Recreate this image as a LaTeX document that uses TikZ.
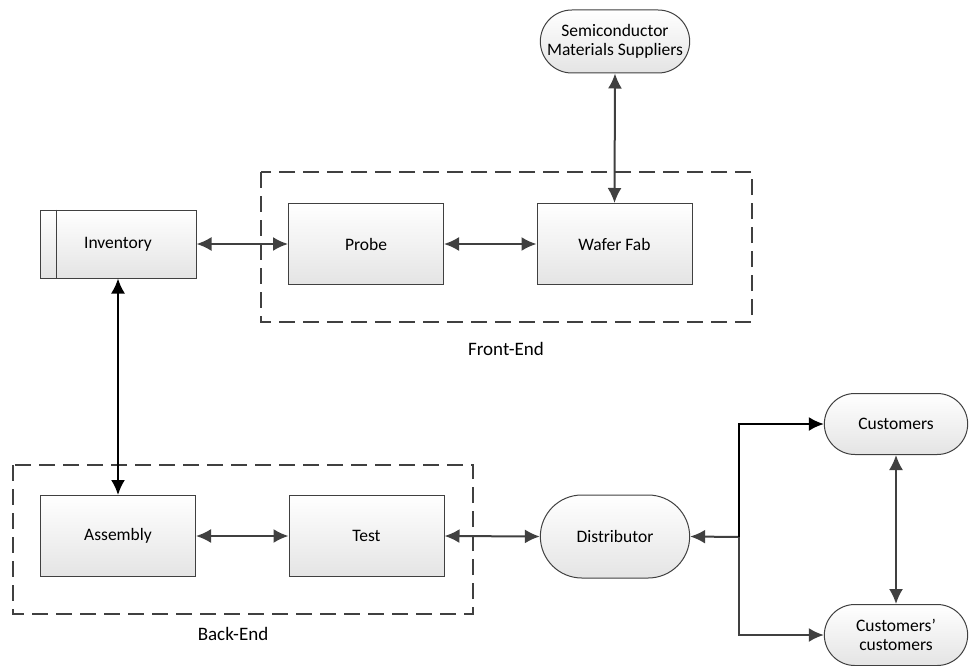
\documentclass[tikz,border=0pt]{standalone}
\usepackage{fontspec}
\setmainfont{Carlito}
\usetikzlibrary{arrows.meta,shapes.misc}

\definecolor{linegray}{HTML}{404040}
\definecolor{boxgray}{HTML}{E4E4E4}

\tikzset{
  txt/.style={font=\fontsize{17.5}{19.5}\selectfont},
  box/.style={txt, draw=linegray, line width=1pt, top color=white, bottom color=boxgray,
    minimum width=155pt, minimum height=81pt, align=center},
  term/.style={box, rounded rectangle},
  group/.style={draw=linegray, line width=1.1pt, dash pattern=on 16pt off 8pt},
  link/.style={draw=linegray, line width=2pt, {Latex[length=15pt,width=14pt]}-{Latex[length=15pt,width=14pt]}},
  blink/.style={link, draw=black}
}

\begin{document}
\begin{tikzpicture}[x=1pt,y=-1pt]
\useasboundingbox (0,0) rectangle (969,666);
\draw[group] (261,172) rectangle (752,322);
\node[txt, font=\fontsize{19}{21}\selectfont] (fe) at (506,349) {Front-End};
\draw[group] (13,465) rectangle (473,614);
\node[txt, font=\fontsize{19}{21}\selectfont] (be) at (233,634) {Back-End};
\node[box, minimum width=156pt, minimum height=68pt] (inv) at (118,244) {Inventory};
\draw[draw=linegray, line width=1pt] ([xshift=17pt]inv.north west) -- ([xshift=17pt]inv.south west);
\node[box] (probe) at (366,244) {Probe};
\node[box] (wafer) at (614.5,244) {Wafer Fab};
\node[term, minimum width=156pt, minimum height=63pt] (supp) at (615,41.5) {Semiconductor\\Materials Suppliers};
\node[box] (asm) at (118,536) {Assembly};
\node[box] (test) at (366.5,536) {Test};
\node[term, minimum width=156pt, minimum height=83pt] (dist) at (615,536.5) {Distributor};
\node[term, minimum width=150pt, minimum height=61pt] (cust) at (896,424) {Customers};
\node[term, minimum width=150pt, minimum height=61pt] (ccust) at (896,635) {Customers’\\customers};
\coordinate (j) at (739,537);
\draw[link] (inv.east) -- (probe.west);
\draw[link] (probe.east) -- (wafer.west);
\draw[link] (supp.south) -- (wafer.north);
\draw[blink] (inv.south) -- (asm.north);
\draw[link] (asm.east) -- (test.west);
\draw[link] (test.east) -- (dist.west);
\draw[link, {Latex[length=15pt,width=14pt]}-] (dist.east) -- (j);
\draw[draw=black, line width=2pt, -{Latex[length=15pt,width=14pt]}] (j) |- (cust.west);
\draw[draw=linegray, line width=2pt, -{Latex[length=15pt,width=14pt]}] (j) |- (ccust.west);
\draw[link] (cust.south) -- (ccust.north);
\end{tikzpicture}
\end{document}
